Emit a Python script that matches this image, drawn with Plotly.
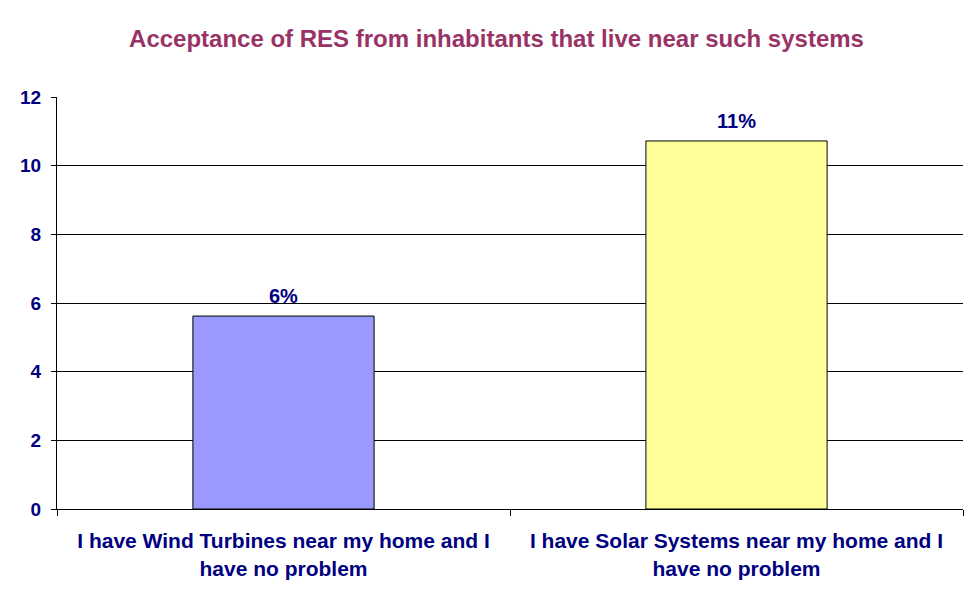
import plotly.graph_objects as go

categories = ["I have Wind Turbines near my home and I<br>have no problem",
              "I have Solar Systems near my home and I<br>have no problem"]
values = [5.62, 10.72]
labels = ["6%", "11%"]
colors = ["#9999FF", "#FFFF99"]
y_ticks = [0, 2, 4, 6, 8, 10, 12]

navy = "#000080"
font_family = "Liberation Sans, Arial, sans-serif"

fig = go.Figure(go.Bar(
    x=categories, y=values,
    marker=dict(color=colors, line=dict(color="black", width=1)),
    width=0.4,
))

for c, v, t in zip(categories, values, labels):
    fig.add_annotation(x=c, y=v, text="<b>" + t + "</b>", showarrow=False,
                       yanchor="bottom", yshift=7,
                       font=dict(family=font_family, size=20, color=navy))

fig.update_layout(
    width=977, height=601,
    margin=dict(l=47, r=22, t=89, b=100),
    paper_bgcolor="white", plot_bgcolor="white",
    showlegend=False,
    title=dict(text="<b>Acceptance of RES from inhabitants that live near such systems</b>",
               x=0.5, xanchor="center", y=1 - 31/601, yanchor="middle",
               font=dict(family=font_family, size=24, color="#993366")),
    font=dict(family=font_family, color=navy),
)
fig.update_yaxes(range=[0, 12], tickvals=y_ticks,
                 ticktext=["<b>%d</b>" % v for v in y_ticks],
                 showgrid=True, gridcolor="black",
                 gridwidth=1, showline=True, linecolor="black", linewidth=1,
                 ticks="outside", ticklen=5, tickcolor="black",
                 tickfont=dict(family=font_family, size=19, color=navy),
                 zeroline=False, ticklabelstandoff=6)
fig.update_xaxes(showline=True, linecolor="black", linewidth=1,
                 ticks="outside", ticklen=6, tickcolor="black",
                 tickson="boundaries",
                 tickvals=categories, ticktext=["<b>" + c + "</b>" for c in categories],
                 ticklabelstandoff=13,
                 tickfont=dict(family=font_family, size=21, color=navy))

fig.write_html("out.html")
